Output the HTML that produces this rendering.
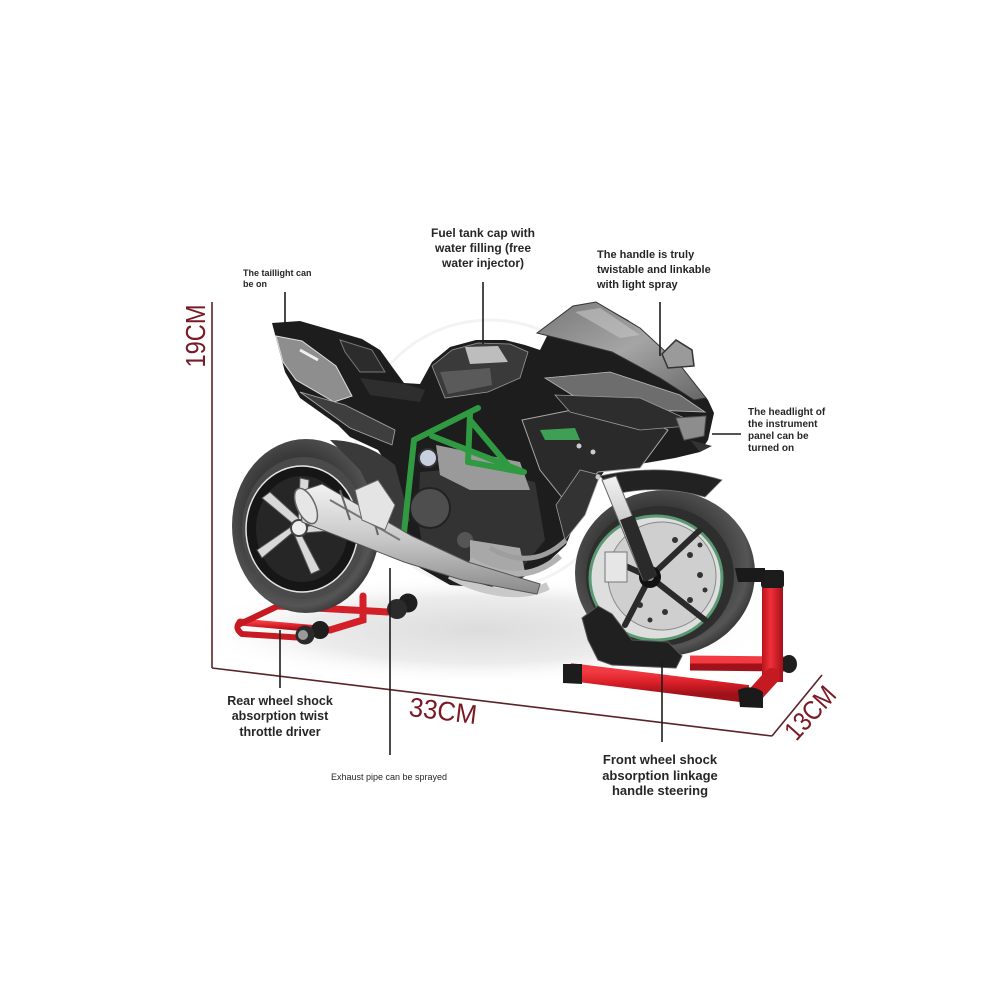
<!DOCTYPE html>
<html>
<head>
<meta charset="utf-8">
<style>
  html,body{margin:0;padding:0;background:#fff;}
  svg{display:block;}
  .lbl{font-family:"Liberation Sans",sans-serif;font-weight:bold;fill:#262626;}
  .dim{font-family:"Liberation Sans",sans-serif;fill:#7a1a24;}
</style>
</head>
<body>
<svg width="1001" height="1001" viewBox="0 0 1001 1001" xmlns="http://www.w3.org/2000/svg">
  <defs>
    <radialGradient id="floor" cx="0.5" cy="0.5" r="0.5">
      <stop offset="0" stop-color="#dcdcdc"/>
      <stop offset="0.6" stop-color="#ececec"/>
      <stop offset="1" stop-color="#ffffff" stop-opacity="0"/>
    </radialGradient>
    <radialGradient id="tire" cx="0.45" cy="0.45" r="0.6">
      <stop offset="0.6" stop-color="#3a3a3a"/>
      <stop offset="0.85" stop-color="#555"/>
      <stop offset="1" stop-color="#2a2a2a"/>
    </radialGradient>
    <linearGradient id="screen" x1="0" y1="0" x2="1" y2="1">
      <stop offset="0" stop-color="#777"/>
      <stop offset="0.5" stop-color="#a5a5a5"/>
      <stop offset="1" stop-color="#666"/>
    </linearGradient>
    <linearGradient id="silver" x1="0" y1="0" x2="0" y2="1">
      <stop offset="0" stop-color="#f2f2f2"/>
      <stop offset="0.5" stop-color="#c8c8c8"/>
      <stop offset="1" stop-color="#8a8a8a"/>
    </linearGradient>
    <linearGradient id="redv" x1="0" y1="0" x2="1" y2="0">
      <stop offset="0" stop-color="#b8141c"/>
      <stop offset="0.4" stop-color="#f0303a"/>
      <stop offset="1" stop-color="#a51018"/>
    </linearGradient>
    <linearGradient id="redh" x1="0" y1="0" x2="0" y2="1">
      <stop offset="0" stop-color="#f23a42"/>
      <stop offset="0.5" stop-color="#d81e27"/>
      <stop offset="1" stop-color="#a0121a"/>
    </linearGradient>
  </defs>

  <rect width="1001" height="1001" fill="#fff"/>
  <circle cx="490" cy="455" r="135" fill="none" stroke="#f3f3f3" stroke-width="3"/>
  <ellipse cx="480" cy="630" rx="290" ry="55" fill="url(#floor)"/>

  <!-- ================= DIMENSIONS ================= -->
  <g stroke="#5b2326" stroke-width="1.6" fill="none">
    <line x1="212" y1="302" x2="212" y2="668"/>
    <line x1="212" y1="668" x2="772" y2="736"/>
    <line x1="772" y1="736" x2="822" y2="675"/>
  </g>
  <text class="dim" font-size="28" text-anchor="middle" textLength="63" lengthAdjust="spacingAndGlyphs" transform="translate(205,336) rotate(-90)">19CM</text>
  <text class="dim" font-size="27" text-anchor="middle" textLength="68" lengthAdjust="spacingAndGlyphs" transform="translate(442,720) rotate(7)">33CM</text>
  <text class="dim" font-size="27" text-anchor="middle" textLength="62" lengthAdjust="spacingAndGlyphs" transform="translate(817,719) rotate(-48)">13CM</text>

  <!-- ================= REAR STAND ================= -->
  <g>
    <path d="M240,622 L330,630" stroke="url(#redh)" stroke-width="7" stroke-linecap="round" fill="none"/>
    <path d="M240,622 Q234,628 242,634 L305,638" stroke="#c81a22" stroke-width="6" stroke-linecap="round" fill="none"/>
    <path d="M278,606 L388,612" stroke="#d21f28" stroke-width="7" stroke-linecap="round" fill="none"/>
    <path d="M240,624 L278,606" stroke="#c51a22" stroke-width="6" stroke-linecap="round" fill="none"/>
    <path d="M363,596 L363,620 L330,630" stroke="#d21f28" stroke-width="7" stroke-linecap="round" fill="none"/>
    <path d="M388,612 L398,608" stroke="#b5151d" stroke-width="6" fill="none"/>
    <circle cx="320" cy="630" r="9" fill="#1e1e1e"/>
    <circle cx="305" cy="635" r="9.5" fill="#2a2a2a"/>
    <circle cx="303" cy="635" r="5" fill="#9a9a9a"/>
    <circle cx="408" cy="603" r="9.5" fill="#1e1e1e"/>
    <circle cx="397" cy="609" r="10" fill="#2b2b2b"/>
  </g>

  <!-- ================= REAR WHEEL ================= -->
  <ellipse cx="306" cy="526" rx="74" ry="87" fill="url(#tire)"/>
  <ellipse cx="304" cy="528" rx="62" ry="71" fill="#4a4a4a"/>
  <ellipse cx="302" cy="529" rx="56" ry="63" fill="#161616" stroke="#e6e6e6" stroke-width="1.5"/>
  <ellipse cx="302" cy="529" rx="46" ry="53" fill="#262626"/>
  <g fill="#d8d8d8" stroke="#555" stroke-width="1">
    <path d="M298,528 L262,498 L270,492 L303,522 Z"/>
    <path d="M298,528 L300,478 L309,480 L305,524 Z"/>
    <path d="M298,528 L342,520 L342,530 L303,533 Z"/>
    <path d="M298,528 L320,570 L311,574 L294,534 Z"/>
    <path d="M298,528 L262,558 L257,550 L292,526 Z"/>
  </g>
  <circle cx="299" cy="528" r="8" fill="#eee" stroke="#444" stroke-width="2"/>

  <!-- ================= FRONT WHEEL ================= -->
  <ellipse cx="665" cy="573" rx="90" ry="83" fill="url(#tire)"/>
  <ellipse cx="660" cy="576" rx="74" ry="70" fill="#2e2e2e"/>
  <ellipse cx="656" cy="578" rx="66" ry="62" fill="#dedede" stroke="#5a9a72" stroke-width="3"/>
  <ellipse cx="662" cy="576" rx="54" ry="54" fill="#cfcfcf" stroke="#888" stroke-width="1"/>
  <g fill="#333">
    <circle cx="690" cy="555" r="3"/><circle cx="700" cy="575" r="3"/><circle cx="690" cy="600" r="3"/>
    <circle cx="665" cy="612" r="3"/><circle cx="640" cy="605" r="3"/><circle cx="675" cy="540" r="3"/>
    <circle cx="705" cy="590" r="2.5"/><circle cx="700" cy="545" r="2.5"/><circle cx="650" cy="620" r="2.5"/>
  </g>
  <g stroke="#2a2a2a" stroke-width="6" stroke-linecap="round">
    <line x1="650" y1="577" x2="612" y2="560"/>
    <line x1="650" y1="577" x2="700" y2="530"/>
    <line x1="650" y1="577" x2="705" y2="620"/>
    <line x1="650" y1="577" x2="625" y2="625"/>
  </g>
  <rect x="605" y="552" width="22" height="30" fill="#e6e6e6" stroke="#777" stroke-width="1"/>
  <circle cx="650" cy="577" r="11" fill="#111"/>
  <circle cx="650" cy="577" r="4" fill="#888"/>

  <!-- ================= FRONT STAND ================= -->
  <g>
    <path d="M690,663 L785,664" stroke="url(#redh)" stroke-width="15" fill="none"/>
    <ellipse cx="789" cy="664" rx="8" ry="9" fill="#1e1e1e"/>
    <rect x="762" y="582" width="21" height="100" fill="url(#redv)"/>
    <rect x="761" y="570" width="23" height="18" rx="3" fill="#1c1c1c"/>
    <path d="M735,568 L765,568 L765,582 L738,582 Z" fill="#1a1a1a"/>
    <path d="M772,676 L752,698" stroke="#c51a22" stroke-width="16" stroke-linecap="round" fill="none"/>
    <path d="M570,672 L748,694" stroke="url(#redh)" stroke-width="18" fill="none"/>
    <path d="M563,664 L582,664 L582,684 L563,683 Z" fill="#1c1c1c"/>
    <path d="M738,690 Q752,684 763,692 L763,708 L740,707 Z" fill="#1a1a1a"/>
    <path d="M582,618 L598,606 L612,614 L632,640 L668,642 L682,656 L676,668 L612,665 L598,660 L588,640 Z" fill="#202020" stroke="#555" stroke-width="1"/>
  </g>

  <!-- ================= BODY SILHOUETTE ================= -->
  <path d="M272,323 L300,321 L338,332 L362,339 L380,350 L393,368 L404,383 L420,384 L432,362 L450,347 L476,340 L505,340 L525,345 L540,350 L548,334 L572,307 L596,302 L628,320 L662,350 L690,378 L708,400 L714,413 L708,440 L700,452 L675,458 L640,464 L605,470 L592,490 L578,515 L566,545 L548,562 L522,578 L488,588 L450,585 L415,565 L402,545 L398,505 L392,472 L378,450 L350,437 L338,425 L300,398 L285,372 Z" fill="#1d1d1d"/>

  <path d="M330,440 Q365,440 395,465 L410,520 L395,540 L360,470 Z" fill="#3a3a3a"/>

  <path d="M276,336 L302,341 L336,366 L352,396 L334,402 L296,380 L283,362 Z" fill="#8e8e8e" stroke="#ddd" stroke-width="1"/>
  <path d="M300,350 L318,360" stroke="#f0f0f0" stroke-width="3"/>
  <path d="M340,340 L372,350 L385,372 L360,372 L345,352 Z" fill="#2c2c2c" stroke="#777" stroke-width="1"/>
  <path d="M300,392 L345,405 L395,430 L392,445 L350,428 Z" fill="#3e3e3e" stroke="#aaa" stroke-width="0.8"/>
  <path d="M360,378 L405,384 L425,390 L420,402 L370,395 Z" fill="#2e2e2e"/>

  <!-- tank -->
  <path d="M432,366 L452,350 L478,343 L510,344 L528,352 L520,378 L488,392 L445,398 Z" fill="#3a3a3a" stroke="#9a9a9a" stroke-width="0.8"/>
  <path d="M465,347 L498,346 L508,362 L470,364 Z" fill="#bdbdbd"/>
  <path d="M440,372 L490,368 L492,385 L448,394 Z" fill="#5a5a5a"/>

  <!-- engine -->
  <path d="M420,472 L470,468 L535,482 L545,540 L522,568 L470,574 L425,560 L418,520 Z" fill="#333"/>
  <path d="M436,445 L520,462 L530,490 L470,490 L440,475 Z" fill="#9a9a9a"/>
  <circle cx="430" cy="508" r="20" fill="#4e4e4e" stroke="#222" stroke-width="2"/>
  <circle cx="465" cy="540" r="8" fill="#555"/>
  <circle cx="428" cy="458" r="9" fill="#c8d0e0" stroke="#333" stroke-width="2"/>
  <path d="M470,540 L520,548 L525,572 L470,575 Z" fill="#a8a8a8"/>

  <!-- green trellis frame -->
  <g stroke="#2f9a41" stroke-width="6" stroke-linecap="round" fill="none">
    <path d="M414,440 L403,542"/>
    <path d="M414,440 L478,408"/>
    <path d="M432,436 L524,472"/>
    <path d="M470,414 L468,462"/>
    <path d="M468,462 L522,472"/>
    <path d="M470,420 L512,470"/>
    <path d="M403,542 L420,548"/>
  </g>

  <!-- exhaust headers -->
  <path d="M450,575 C480,592 520,600 548,586" stroke="#c9c9c9" stroke-width="8" fill="none"/>
  <path d="M470,560 C505,580 535,578 560,556" stroke="#b2b2b2" stroke-width="6" fill="none"/>
  <path d="M490,548 C520,565 545,560 566,540" stroke="#9e9e9e" stroke-width="5" fill="none"/>

  <!-- muffler -->
  <path d="M298,492 L322,484 L412,536 L468,562 L540,584 L537,594 L462,580 L404,562 L302,522 Z" fill="url(#silver)" stroke="#555" stroke-width="1"/>
  <path d="M330,500 L400,540" stroke="#777" stroke-width="2"/>
  <path d="M340,490 L350,520 M370,505 L378,535" stroke="#666" stroke-width="2"/>
  <ellipse cx="306" cy="506" rx="9" ry="19" fill="#e6e6e6" stroke="#666" stroke-width="1.5" transform="rotate(-25 306 506)"/>
  <path d="M355,490 L378,480 L395,505 L385,530 L362,520 Z" fill="#e4e4e4" stroke="#666" stroke-width="1"/>

  <!-- front fairing side panels -->
  <path d="M522,420 L612,402 L668,430 L640,468 L598,472 L568,505 L540,470 Z" fill="#2a2a2a" stroke="#a8a8a8" stroke-width="1"/>
  <path d="M540,430 L575,428 L580,440 L545,440 Z" fill="#3fa055"/>
  <path d="M556,505 L580,470 L600,475 L585,515 L565,540 Z" fill="#333" stroke="#999" stroke-width="0.8"/>
  <path d="M545,378 L610,372 L680,395 L705,412 L650,410 L580,400 Z" fill="#6d6d6d" stroke="#bbb" stroke-width="0.8"/>
  <path d="M555,395 L640,398 L700,425 L640,430 L570,412 Z" fill="#2d2d2d" stroke="#999" stroke-width="0.8"/>
  <circle cx="579" cy="446" r="2.5" fill="#ccc"/><circle cx="593" cy="452" r="2.5" fill="#ccc"/><circle cx="598" cy="477" r="2.5" fill="#ccc"/>

  <!-- headlight -->
  <path d="M676,418 L706,416 L704,436 L684,440 Z" fill="#8d8d8d" stroke="#555" stroke-width="1"/>
  <path d="M690,440 L712,446 L700,452 Z" fill="#333"/>

  <!-- windscreen -->
  <path d="M537,333 L573,306 L596,302 L640,328 L680,365 L706,398 L694,400 L660,378 L612,352 L565,340 Z" fill="url(#screen)" stroke="#333" stroke-width="1"/>
  <path d="M575,312 L600,308 L640,335 L620,338 Z" fill="#c4c4c4" opacity="0.6"/>

  <!-- mirror -->
  <path d="M662,354 L676,340 L692,350 L694,366 L668,368 Z" fill="#9a9a9a" stroke="#333" stroke-width="1.5"/>

  <!-- front fender -->
  <path d="M600,476 Q662,462 722,480 L705,497 Q660,484 616,494 Z" fill="#222" stroke="#777" stroke-width="0.8"/>

  <!-- front fork -->
  <path d="M602,480 L616,476 L656,574 L643,580 Z" fill="url(#silver)" stroke="#666" stroke-width="1"/>
  <path d="M620,520 L634,515 L657,576 L644,582 Z" fill="#2a2a2a"/>

  <!-- ================= LEADER LINES ================= -->
  <g stroke="#1c1c1c" stroke-width="1.6">
    <line x1="285" y1="292" x2="285" y2="331"/>
    <line x1="483" y1="282" x2="483" y2="344"/>
    <line x1="660" y1="302" x2="660" y2="356"/>
    <line x1="712" y1="434" x2="741" y2="434"/>
    <line x1="280" y1="630" x2="280" y2="688"/>
    <line x1="390" y1="568" x2="390" y2="755"/>
    <line x1="662" y1="662" x2="662" y2="742"/>
  </g>

  <!-- ================= LABELS ================= -->
  <text class="lbl" font-size="9" x="243" y="276">The taillight can</text>
  <text class="lbl" font-size="9" x="243" y="287">be on</text>

  <g class="lbl" font-size="12" text-anchor="middle">
    <text x="483" y="237">Fuel tank cap with</text>
    <text x="483" y="252">water filling (free</text>
    <text x="483" y="267">water injector)</text>
  </g>

  <g class="lbl" font-size="11">
    <text x="597" y="258">The handle is truly</text>
    <text x="597" y="273">twistable and linkable</text>
    <text x="597" y="288">with light spray</text>
  </g>

  <g class="lbl" font-size="10">
    <text x="748" y="415">The headlight of</text>
    <text x="748" y="427">the instrument</text>
    <text x="748" y="439">panel can be</text>
    <text x="748" y="451">turned on</text>
  </g>

  <g class="lbl" font-size="12.5" text-anchor="middle">
    <text x="280" y="705">Rear wheel shock</text>
    <text x="280" y="720">absorption twist</text>
    <text x="280" y="736">throttle driver</text>
  </g>

  <text class="lbl" font-size="9" text-anchor="middle" x="389" y="780" style="font-weight:normal" fill="#222">Exhaust pipe can be sprayed</text>

  <g class="lbl" font-size="13" text-anchor="middle">
    <text x="660" y="764">Front wheel shock</text>
    <text x="660" y="780">absorption linkage</text>
    <text x="660" y="795">handle steering</text>
  </g>
</svg>
</body>
</html>
